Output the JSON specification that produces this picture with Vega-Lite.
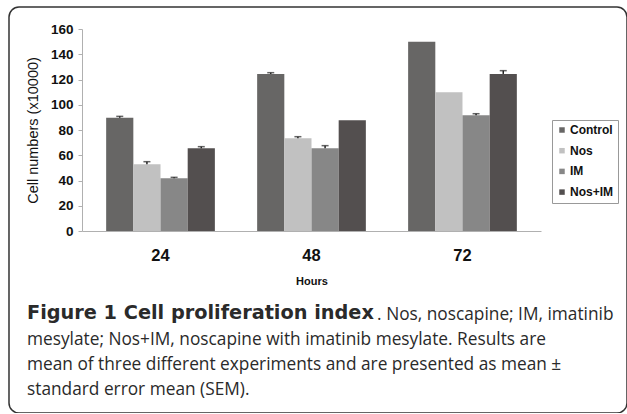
{
  "$schema": "https://vega.github.io/schema/vega-lite/v6.json",
  "width": 618,
  "height": 406,
  "autosize": {"type": "none"},
  "padding": {"left": 9, "top": 7, "right": 0, "bottom": 0},
  "background": "white",
  "config": {
    "view": {"stroke": "#333333", "strokeWidth": 1.5, "cornerRadius": 10, "fill": "white"},
    "axis": {"labelFont": "Liberation Sans", "titleFont": "Liberation Sans", "grid": false}
  },
  "title": {
    "text": "Figure 1 Cell proliferation index",
    "subtitle": [
      "\u200d\u2003\u2003\u2003\u2003\u2003\u2003\u2003\u2003\u2003\u2003\u2003\u2003\u2003\u2003\u2003\u2003\u2003\u2003\u2003\u2003\u00a0. Nos, noscapine; IM, imatinib",
      "mesylate; Nos+IM, noscapine with imatinib mesylate. Results are",
      "mean of three different experiments and are presented as mean ±",
      "standard error mean (SEM)."
    ],
    "orient": "bottom",
    "anchor": "start",
    "frame": "group",
    "offset": -109,
    "dx": 18,
    "font": "DejaVu Sans",
    "fontSize": 19.3,
    "fontWeight": "bold",
    "color": "#2a2a2a",
    "subtitleFont": "Open Sans",
    "subtitleFontSize": 17.3,
    "subtitleFontWeight": "normal",
    "subtitleColor": "#2a2a2a",
    "subtitleLineHeight": 25.3,
    "subtitlePadding": -17.8
  },
  "data": {
    "values": [
      {"hours": "24", "group": "Control", "value": 89.7, "upper": 90.8},
      {"hours": "24", "group": "Nos", "value": 52.8, "upper": 54.9},
      {"hours": "24", "group": "IM", "value": 41.7, "upper": 42.5},
      {"hours": "24", "group": "Nos+IM", "value": 65.5, "upper": 66.8},
      {"hours": "48", "group": "Control", "value": 124.4, "upper": 125.4},
      {"hours": "48", "group": "Nos", "value": 73.4, "upper": 74.7},
      {"hours": "48", "group": "IM", "value": 65.5, "upper": 67.6},
      {"hours": "48", "group": "Nos+IM", "value": 87.7, "upper": 87.7},
      {"hours": "72", "group": "Control", "value": 150, "upper": 150},
      {"hours": "72", "group": "Nos", "value": 109.9, "upper": 109.9},
      {"hours": "72", "group": "IM", "value": 91.6, "upper": 92.9},
      {"hours": "72", "group": "Nos+IM", "value": 124.4, "upper": 127}
    ]
  },
  "encoding": {
    "x": {
      "field": "hours",
      "type": "nominal",
      "sort": ["24", "48", "72"],
      "scale": {"range": [73, 532], "paddingInner": 0.28, "paddingOuter": 0.16},
      "axis": {
        "title": "Hours",
        "offset": -182,
        "labelAngle": 0,
        "ticks": false,
        "tickSize": 0,
        "labelPadding": 16,
        "labelFontSize": 16.5,
        "labelFontWeight": "bold",
        "labelColor": "#111111",
        "domainColor": "#b0b0b0",
        "domainWidth": 1,
        "titleFontSize": 11,
        "titleFontWeight": "bold",
        "titleColor": "#111111",
        "titlePadding": 12
      }
    },
    "xOffset": {"field": "group", "sort": ["Control", "Nos", "IM", "Nos+IM"]}
  },
  "layer": [
    {
      "mark": {"type": "bar"},
      "encoding": {
        "y": {
          "field": "value",
          "type": "quantitative",
          "title": "Cell numbers (x10000)",
          "scale": {"domain": [0, 160], "range": [224, 22]},
          "axis": {
            "offset": -73,
            "values": [0, 20, 40, 60, 80, 100, 120, 140, 160],
            "domainColor": "#b0b0b0",
            "tickColor": "#b0b0b0",
            "tickSize": 4,
            "labelFontSize": 13.5,
            "labelFontWeight": "bold",
            "labelColor": "#111111",
            "labelPadding": 5,
            "titleFontSize": 14.5,
            "titleFontWeight": "normal",
            "titleColor": "#111111",
            "titlePadding": 10
          }
        },
        "color": {
          "field": "group",
          "type": "nominal",
          "sort": ["Control", "Nos", "IM", "Nos+IM"],
          "scale": {"domain": ["Control", "Nos", "IM", "Nos+IM"], "range": ["#676665", "#c1c1c1", "#878787", "#534f4f"]},
          "legend": {
            "orient": "none",
            "legendX": 543,
            "legendY": 113,
            "title": null,
            "strokeColor": "#999999",
            "fillColor": "white",
            "padding": 4,
            "symbolType": "square",
            "symbolSize": 30,
            "symbolStrokeWidth": 0,
            "labelFont": "Liberation Sans",
            "labelFontSize": 12,
            "labelFontWeight": "bold",
            "labelColor": "#111111",
            "labelOffset": 2,
            "rowPadding": 8.7
          }
        }
      }
    },
    {
      "transform": [{"filter": "datum.upper > datum.value"}],
      "mark": {"type": "rule", "color": "#222222", "strokeWidth": 1.5},
      "encoding": {
        "y": {"field": "value", "type": "quantitative", "title": "Cell numbers (x10000)"},
        "y2": {"field": "upper"}
      }
    },
    {
      "transform": [{"filter": "datum.upper > datum.value"}],
      "mark": {"type": "tick", "color": "#222222", "thickness": 1.5, "size": 7},
      "encoding": {
        "y": {"field": "upper", "type": "quantitative", "title": "Cell numbers (x10000)"}
      }
    }
  ]
}
